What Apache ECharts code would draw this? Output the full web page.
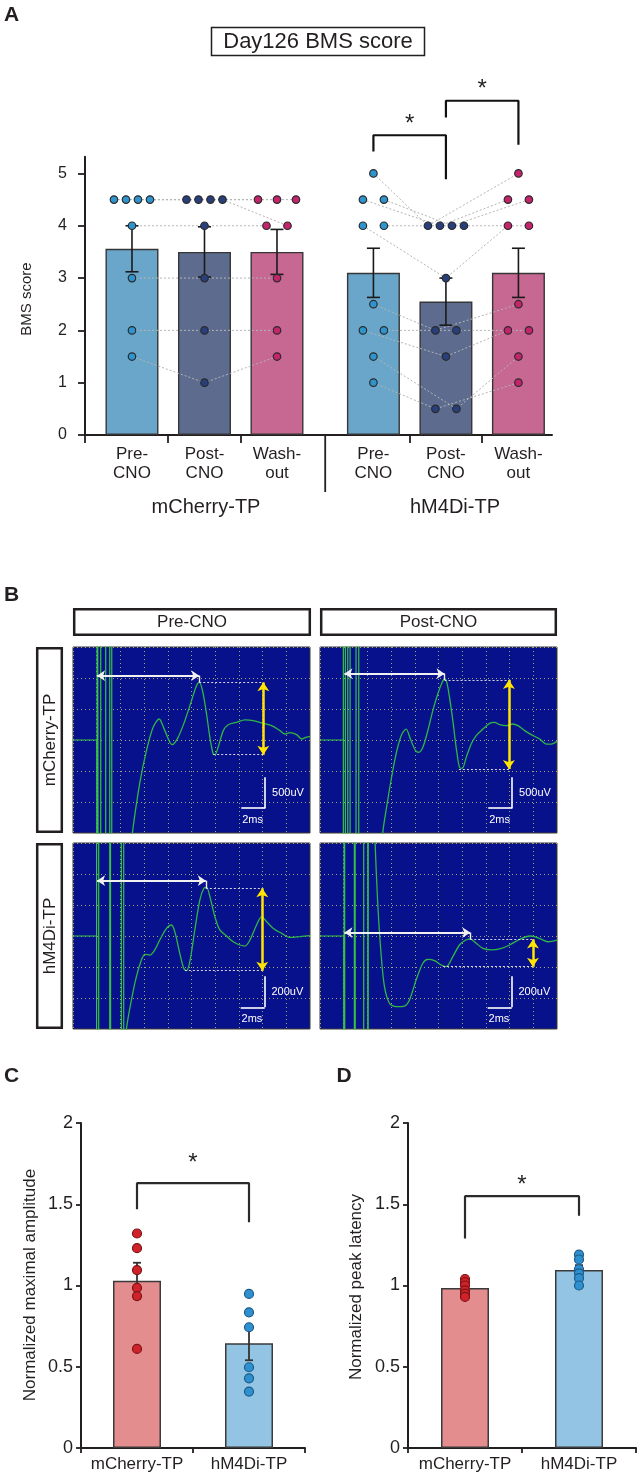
<!DOCTYPE html>
<html><head><meta charset="utf-8">
<script src="https://cdn.jsdelivr.net/npm/echarts@6/dist/echarts.min.js"></script>
<style>html,body{margin:0;padding:0;background:#fff}#c{width:641px;height:1474px}</style>
</head><body><div id="c"></div>
<script>
// ======================= DATA =======================
// ---- Panel A : Day126 BMS score ----
const conditions = ['Pre-\nCNO', 'Post-\nCNO', 'Wash-\nout'];
const groups = ['mCherry-TP', 'hM4Di-TP'];
const bmsTicks = [0, 1, 2, 3, 4, 5];
// individual animals: [Pre-CNO, Post-CNO, Wash-out]
const mCherryScores = [[4.5,4.5,4.5],[4.5,4.5,4.5],[4.5,4.5,4.5],[4,4,4],[4.5,4.5,4],[3,3,3],[2,2,2],[1.5,1,1.5]];
const hM4DiScores = [[5,4,5],[4.5,4,4.5],[4.5,4,4.5],[4,3,4],[4,4,4],[2.5,2,2.5],[2,1.5,2],[2,2,2],[1,0.5,1],[1.5,0.5,1.5]];
const mCherryMean = [3.56, 3.5, 3.5];
const mCherrySem = [0.44, 0.48, 0.43];
const hM4DiMean = [3.1, 2.55, 3.1];
const hM4DiSem = [0.47, 0.45, 0.47];
const bracketPrePost = [5.42, 5.73, 4.89];   // left leg, top, right leg
const bracketPostWash = [6.07, 6.39, 5.55];
const starLevelsA = [6.04, 6.71];

// ---- Panel B : evoked potentials (ms, uV) ----
const preMChArtifacts = [2.03, 2.17, 2.34, 2.76, 3.1, 3.27];
const preMChTrace = [[4.9,-1800],[5.01,-1505],[5.63,-700],[6.2,-172],[6.76,204],[7.27,339],[7.75,151],[8.37,-75],[8.87,43],[9.44,312],[10.0,634],[10.42,876],[10.65,930],[10.93,796],[11.27,419],[11.55,43],[11.83,-226],[11.97,-237],[12.25,-118],[12.68,151],[13.1,247],[13.8,285],[14.51,323],[15.21,312],[16.06,269],[16.76,231],[17.46,151],[17.89,97],[18.31,118],[18.87,86],[19.3,16],[19.66,43],[20,54]];
const preMChLatency = [2.03, 10.65, 1038];
const preMChAmplitude = [16.06, 930, -237, 11.83];

const postMChArtifacts = [1.97, 2.14, 2.34, 2.54, 3.04, 3.27];
const postMChTrace = [[5.2,-1800],[5.3,-1489],[5.58,-1129],[6.0,-645],[6.42,-226],[6.85,70],[7.27,177],[7.63,16],[8.06,-172],[8.34,-199],[8.68,-118],[9.1,151],[9.52,473],[9.94,742],[10.31,930],[10.51,984],[10.7,930],[10.93,688],[11.21,312],[11.49,-118],[11.77,-441],[12.0,-457],[12.34,-280],[12.76,-65],[13.18,70],[13.75,177],[14.31,269],[14.73,285],[15.15,247],[15.72,231],[16.28,258],[16.7,231],[17.27,151],[17.83,86],[18.54,16],[19.1,-65],[19.52,-65],[20,-22]];
const postMChLatency = [2.06, 10.51, 1070];
const postMChAmplitude = [15.94, 968, -468, 11.72];

const preHM4Artifacts = [1.99, 2.17, 3.1, 3.24, 4.08, 4.28];
const preHM4Trace = [[4.4,-800],[4.51,-602],[4.93,-413],[5.35,-262],[5.77,-155],[6.06,-118],[6.48,-123],[6.9,-90],[7.32,-26],[7.89,49],[8.31,71],[8.59,28],[9.01,-112],[9.35,-209],[9.58,-224],[9.86,-166],[10.28,39],[10.7,232],[11.04,308],[11.27,314],[11.55,254],[11.97,125],[12.39,39],[12.96,0],[13.52,-37],[14.08,-58],[14.51,-65],[14.93,-26],[15.49,71],[15.92,125],[16.34,92],[16.9,49],[17.61,17],[18.31,-9],[19.15,-4],[20,2]];
const preHM4Latency = [2.03, 11.21, 357];
const preHM4Amplitude = [15.97, 308, -224, 9.44];

const postHM4Artifacts = [2.03, 2.14, 2.9, 3.04, 3.69, 4.03, 4.11];
const postHM4Trace = [[4.55,800],[4.65,598],[4.87,211],[5.15,-112],[5.44,-327],[5.86,-434],[6.42,-456],[7.13,-452],[7.55,-413],[8.11,-284],[8.68,-176],[9.1,-151],[9.66,-159],[10.23,-187],[10.65,-198],[11.21,-133],[11.77,-58],[12.34,-24],[12.68,-20],[13.18,-47],[13.75,-80],[14.45,-90],[15.3,-80],[16.0,-58],[16.85,-22],[17.69,0],[18.11,-4],[18.82,-26],[19.24,-37],[20,-26]];
const postHM4Latency = [2.06, 12.68, 22];
const postHM4Amplitude = [17.97, -22, -198, 10.37];

const scopeTimeRange = [0, 20];          // ms, 2 ms / division
const scopeRangeMCh = 1500;              // uV, 500 uV / division
const scopeRangeHM4 = 600;               // uV, 200 uV / division
const scaleBarMCh = [16.2, -1100, 500];  // x (ms), bottom (uV), height (uV)
const scaleBarHM4 = [16.15, -460, 200];

// ---- Panels C & D ----
const cdCategories = ['mCherry-TP', 'hM4Di-TP'];
const cdTicks = [0, 0.5, 1, 1.5, 2];
const ampMean = [1.03, 0.645];
const ampSem = [0.11, 0.105];
const ampPoints = [[1.32,1.23,1.095,0.985,0.935,0.61],[0.948,0.835,0.743,0.497,0.429,0.347]];
const ampBracket = [1.47, 1.63, 1.39];
const ampStar = 1.78;
const latMean = [0.985, 1.095];
const latSem = [0.02, 0.03];
const latPoints = [[1.04,1.02,1.0,0.97,0.95,0.93],[1.19,1.16,1.10,1.075,1.045,1.0]];
const latBracket = [1.29, 1.55, 1.43];
const latStar = 1.65;

// ======================= LAYOUT / STYLE =======================
const FONT = '"Liberation Sans", Arial, Helvetica, sans-serif';
const INK = '#231f20';
const A_XMIN = 0.352, A_XMAX = 6.793;
const A_LEFT = 85, A_RIGHT = 552, A_TOP = 156.7, A_BOTTOM = 435;
const slotPos = [1, 2, 3, 4.33, 5.33, 6.33];
const unitPx = (A_RIGHT - A_LEFT) / (A_XMAX - A_XMIN);
const spreadPx = {1:[0], 2:[-10.5,10.5], 3:[-19,0,19], 4:[-18,-6,6,18], 5:[-24,-12,0,12,24]};
const barColorsA = ['#6aa6c9', '#5c6b8e', '#c66891'];
const dotColorsA = ['#2f93cd', '#283f7c', '#c4246b'];

const chart = echarts.init(document.getElementById('c'), null, {width: 641, height: 1474});

function jitterX(scores, g) {
  const xs = scores.map(() => [0, 0, 0]);
  for (let c = 0; c < 3; c++) {
    const byVal = {};
    scores.forEach((row, s) => { (byVal[row[c]] = byVal[row[c]] || []).push(s); });
    Object.values(byVal).forEach(list => {
      const offs = spreadPx[list.length];
      list.forEach((s, k) => { xs[s][c] = slotPos[g * 3 + c] + offs[k] / unitPx; });
    });
  }
  return xs;
}

function errorBarRenderer(cap, color, lw) {
  return function (params, api) {
    const x = api.value(0), m = api.value(1), e = api.value(2);
    const p1 = api.coord([x, m + e]), p2 = api.coord([x, m - e]);
    const st = {stroke: color, lineWidth: lw};
    return {type: 'group', children: [
      {type: 'line', shape: {x1: p1[0], y1: p1[1], x2: p2[0], y2: p2[1]}, style: st},
      {type: 'line', shape: {x1: p1[0] - cap / 2, y1: p1[1], x2: p1[0] + cap / 2, y2: p1[1]}, style: st},
      {type: 'line', shape: {x1: p2[0] - cap / 2, y1: p2[1], x2: p2[0] + cap / 2, y2: p2[1]}, style: st}
    ]};
  };
}

// ---------------- grids & axes ----------------
const grids = [
  {left: A_LEFT, top: A_TOP, width: A_RIGHT - A_LEFT, height: A_BOTTOM - A_TOP},
  {left: 73, top: 647, width: 237, height: 186},
  {left: 320, top: 647, width: 237, height: 186},
  {left: 73, top: 843, width: 237, height: 186},
  {left: 320, top: 843, width: 237, height: 186},
  {left: 81, top: 1123, width: 224, height: 325},
  {left: 408, top: 1123, width: 228, height: 325}
].map((g, i) => Object.assign({containLabel: false, outerBoundsMode: 'none'}, g,
  (i >= 1 && i <= 4) ? {show: true, backgroundColor: '#08118c', borderColor: '#3a3a3a', borderWidth: 1} : {}));

const midTicks = [];
for (let i = 0; i < slotPos.length - 1; i++) { if (i !== 2) midTicks.push((slotPos[i] + slotPos[i + 1]) / 2); }
const separatorX = (slotPos[2] + slotPos[3]) / 2;

const xAxes = [], yAxes = [];
xAxes.push({gridIndex: 0, type: 'value', min: A_XMIN, max: A_XMAX, splitLine: {show: false},
  axisLine: {show: true, onZero: false, lineStyle: {color: INK, width: 2}},
  axisTick: {show: true, length: 8, lineStyle: {color: INK, width: 1.8}, customValues: [A_XMIN].concat(midTicks)},
  axisLabel: {show: true, customValues: slotPos, fontSize: 17, lineHeight: 19, color: INK, margin: 10, fontFamily: FONT,
    formatter: v => { const i = slotPos.findIndex(p => Math.abs(p - v) < 1e-6); return i < 0 ? '' : conditions[i % 3]; }}});
yAxes.push({gridIndex: 0, type: 'value', min: 0, max: 5.32, splitLine: {show: false},
  axisLine: {show: true, lineStyle: {color: INK, width: 2}},
  axisTick: {show: true, length: 7, lineStyle: {color: INK, width: 1.8}, customValues: bmsTicks},
  axisLabel: {customValues: bmsTicks, fontSize: 16, color: INK, margin: 18, fontFamily: FONT,
    formatter: v => Number.isInteger(v) ? String(v) : ''}});
for (let i = 1; i <= 4; i++) {
  const R = i <= 2 ? scopeRangeMCh : scopeRangeHM4;
  const split = {show: true, lineStyle: {color: '#a3a374', width: 1, type: [1, 3]}};
  xAxes.push({gridIndex: i, type: 'value', min: scopeTimeRange[0], max: scopeTimeRange[1], interval: 2,
    axisLine: {show: false}, axisTick: {show: false}, axisLabel: {show: false}, splitLine: split});
  yAxes.push({gridIndex: i, type: 'value', min: -R, max: R, interval: R / 3,
    axisLine: {show: false}, axisTick: {show: false}, axisLabel: {show: false}, splitLine: split});
}
[5, 6].forEach(gi => {
  xAxes.push({gridIndex: gi, type: 'category', data: cdCategories, boundaryGap: true,
    axisLine: {show: true, onZero: false, lineStyle: {color: INK, width: 2}},
    axisTick: {show: true, length: 5, alignWithLabel: false, interval: 0, lineStyle: {color: INK, width: 1.8}},
    axisLabel: {interval: 0, hideOverlap: false, fontSize: 17, lineHeight: 18, color: INK, margin: 7, fontFamily: FONT},
    splitLine: {show: false}});
  yAxes.push({gridIndex: gi, type: 'value', min: 0, max: 2, interval: 0.5,
    axisLine: {show: true, lineStyle: {color: INK, width: 2}},
    axisTick: {show: true, length: 5, lineStyle: {color: INK, width: 1.8}},
    axisLabel: {fontSize: 18, color: INK, margin: 8, fontFamily: FONT}, splitLine: {show: false}});
});

// ---------------- series ----------------
const series = [];
// Panel A bars
const aMeans = [mCherryMean, hM4DiMean], aSems = [mCherrySem, hM4DiSem], aScores = [mCherryScores, hM4DiScores];
const barDataA = [], errDataA = [];
for (let g = 0; g < 2; g++) for (let c = 0; c < 3; c++) {
  const i = g * 3 + c;
  barDataA.push({value: [slotPos[i], aMeans[g][c]], itemStyle: {color: barColorsA[c]}});
  errDataA.push([slotPos[i], aMeans[g][c], aSems[g][c]]);
}
series.push({type: 'bar', xAxisIndex: 0, yAxisIndex: 0, barWidth: 53, data: barDataA, z: 1, silent: true,
  itemStyle: {borderColor: '#363636', borderWidth: 1.4}});
// subject lines + dots
const dotDataA = [[], [], []];
aScores.forEach((scores, g) => {
  const xs = jitterX(scores, g);
  scores.forEach((row, s) => {
    series.push({type: 'line', xAxisIndex: 0, yAxisIndex: 0, data: row.map((v, c) => [xs[s][c], v]), symbol: 'none',
      lineStyle: {color: '#b5b5b5', width: 1, type: [2, 2]}, z: 2, silent: true});
    row.forEach((v, c) => dotDataA[c].push([xs[s][c], v]));
  });
});
series.push({type: 'custom', xAxisIndex: 0, yAxisIndex: 0, data: errDataA, encode: {x: 0, y: 1}, z: 3, silent: true,
  renderItem: errorBarRenderer(13, '#1a1a1a', 1.6)});
dotDataA.forEach((d, c) => series.push({type: 'scatter', xAxisIndex: 0, yAxisIndex: 0, data: d, symbolSize: 7.5, z: 4, silent: true,
  itemStyle: {color: dotColorsA[c], borderColor: '#2a2a2a', borderWidth: 1.2, opacity: 1}}));
// significance brackets (A)
[[slotPos[3], slotPos[4], bracketPrePost], [slotPos[4], slotPos[5], bracketPostWash]].forEach(([xa, xb, b]) => {
  series.push({type: 'line', xAxisIndex: 0, yAxisIndex: 0, clip: false, symbol: 'none', silent: true, z: 5,
    data: [[xa, b[0]], [xa, b[1]], [xb, b[1]], [xb, b[2]]], lineStyle: {color: '#111', width: 2.2}});
});
// group separator
series.push({type: 'line', xAxisIndex: 0, yAxisIndex: 0, clip: false, symbol: 'none', silent: true,
  data: [[separatorX, 0], [separatorX, -1.09]], lineStyle: {color: INK, width: 1.8}});

// Panel B
function stimData(arts) {
  const d = [[0, 0], [Math.min(2, arts[0]), 0]];
  arts.forEach((t, k) => { const s = k % 2 === 0 ? -1 : 1; d.push([t, s * 9999], [t, -s * 9999]); });
  return d;
}
function scopeMarks(lat, amp, bar) {
  const white = '#f0f0f0', yellow = '#ffe500';
  const solid = (c, w) => ({color: c, width: w, type: 'solid'});
  const dotted = {color: '#d6d6e6', width: 1.2, type: [2, 2]};
  return {silent: true, animation: false, symbol: ['none', 'none'], symbolSize: 8, precision: 4,
    label: {show: false}, emphasis: {disabled: true},
    data: [
      [{coord: [lat[0], lat[2]], symbol: 'arrow', lineStyle: solid(white, 2)}, {coord: [lat[1], lat[2]], symbol: 'arrow'}],
      [{coord: [lat[1], lat[2]], lineStyle: solid(white, 1.4)}, {coord: [lat[1], amp[1]]}],
      [{coord: [lat[1], amp[1]], lineStyle: dotted}, {coord: [amp[0], amp[1]]}],
      [{coord: [amp[3], amp[2]], lineStyle: dotted}, {coord: [amp[0], amp[2]]}],
      [{coord: [amp[0], amp[1]], symbol: 'arrow', symbolSize: 9, lineStyle: solid(yellow, 2.5)}, {coord: [amp[0], amp[2]], symbol: 'arrow', symbolSize: 9}],
      [{coord: [bar[0], bar[1] + bar[2]], lineStyle: solid('#ffffff', 1.6)}, {coord: [bar[0], bar[1]]}],
      [{coord: [bar[0] - 2, bar[1]], lineStyle: solid('#ffffff', 1.6)}, {coord: [bar[0] + 0.03, bar[1]]}]
    ]};
}
const scopes = [
  [preMChArtifacts, preMChTrace, preMChLatency, preMChAmplitude, scaleBarMCh],
  [postMChArtifacts, postMChTrace, postMChLatency, postMChAmplitude, scaleBarMCh],
  [preHM4Artifacts, preHM4Trace, preHM4Latency, preHM4Amplitude, scaleBarHM4],
  [postHM4Artifacts, postHM4Trace, postHM4Latency, postHM4Amplitude, scaleBarHM4]
];
scopes.forEach(([arts, trace, lat, amp, bar], k) => {
  const i = k + 1;
  series.push({type: 'line', xAxisIndex: i, yAxisIndex: i, data: stimData(arts), symbol: 'none', silent: true, z: 3,
    lineStyle: {color: '#37c243', width: 1.2}});
  series.push({type: 'line', xAxisIndex: i, yAxisIndex: i, data: trace, symbol: 'none', silent: true, z: 3, smooth: 0.3,
    lineStyle: {color: '#2fb645', width: 1.3}, markLine: scopeMarks(lat, amp, bar)});
});

// Panels C & D
const cdColors = ['#e38d8f', '#94c4e3'];
const cdDot = [{color: '#d0222b', borderColor: '#7d1515'}, {color: '#2f90d0', borderColor: '#1b5b88'}];
[[5, ampMean, ampSem, ampPoints, ampBracket], [6, latMean, latSem, latPoints, latBracket]].forEach(([gi, mean, sem, pts, br]) => {
  series.push({type: 'bar', xAxisIndex: gi, yAxisIndex: gi, barWidth: 48, silent: true, z: 1,
    data: mean.map((m, j) => ({value: m, itemStyle: {color: cdColors[j]}})),
    itemStyle: {borderColor: '#3a3a3a', borderWidth: 1.5}});
  series.push({type: 'custom', xAxisIndex: gi, yAxisIndex: gi, encode: {x: 0, y: 1}, silent: true, z: 3,
    data: mean.map((m, j) => [j, m, sem[j]]), renderItem: errorBarRenderer(8, '#333', 1.8)});
  pts.forEach((p, j) => series.push({type: 'scatter', xAxisIndex: gi, yAxisIndex: gi, silent: true, z: 4, symbolSize: 9,
    data: p.map(v => [j, v]), itemStyle: Object.assign({borderWidth: 1.2, opacity: 1}, cdDot[j])}));
  series.push({type: 'line', xAxisIndex: gi, yAxisIndex: gi, clip: false, symbol: 'none', silent: true, z: 5,
    data: [[0, br[0]], [0, br[1]], [1, br[1]], [1, br[2]]], lineStyle: {color: '#2a2a2a', width: 2.2}});
});

chart.setOption({
  animation: false, backgroundColor: '#ffffff', textStyle: {fontFamily: FONT},
  grid: grids, xAxis: xAxes, yAxis: yAxes, series: series
});

// ---------------- text & frames ----------------
function txt(text, x, y, size, opts) {
  opts = opts || {};
  return {type: 'text', x: x, y: y, rotation: opts.rot || 0, silent: true, z: 50,
    style: {text: text, fill: opts.fill || INK, fontSize: size, fontFamily: FONT, fontWeight: opts.bold ? 'bold' : 'normal',
      align: opts.align || 'center', textAlign: opts.align || 'center', verticalAlign: 'middle', textVerticalAlign: 'middle'}};
}
function box(x, y, w, h, lw) {
  return {type: 'rect', shape: {x: x, y: y, width: w, height: h}, silent: true, z: 40,
    style: {fill: '#ffffff', stroke: INK, lineWidth: lw}};
}
const G = [];
G.push(txt('A', 11.5, 15, 21, {bold: true}), txt('B', 11.5, 595, 21, {bold: true}),
       txt('C', 11.5, 1076, 21, {bold: true}), txt('D', 344, 1076, 21, {bold: true}));
G.push(box(211.5, 27.5, 213, 28, 1.5), txt('Day126 BMS score', 318, 42, 22));
G.push(txt('BMS score', 27, 299, 15, {rot: Math.PI / 2}));
G.push(txt(groups[0], 206, 507, 20), txt(groups[1], 455, 507, 20));
G.push(box(74.2, 609.2, 235.6, 25.6, 2.5), txt('Pre-CNO', 192, 622, 17));
G.push(box(321.2, 609.2, 234.6, 25.6, 2.5), txt('Post-CNO', 438.5, 622, 17));
G.push(box(37.2, 648.2, 24.6, 183.6, 2.5), txt('mCherry-TP', 50, 740, 17, {rot: Math.PI / 2}));
G.push(box(37.2, 844.2, 24.6, 183.6, 2.5), txt('hM4Di-TP', 50, 936, 17, {rot: Math.PI / 2}));
G.push(txt('Normalized maximal amplitude', 30, 1285, 17, {rot: Math.PI / 2}));
G.push(txt('Normalized peak latency', 356, 1287, 17, {rot: Math.PI / 2}));
// stars placed through the axes' scales
function star(gi, x, y) {
  const p = chart.convertToPixel({gridIndex: gi}, [x, y]);
  return txt('*', p[0], p[1] + 5, 24, {bold: false});
}
G.push(star(0, (slotPos[3] + slotPos[4]) / 2, starLevelsA[0]));
G.push(star(0, (slotPos[4] + slotPos[5]) / 2, starLevelsA[1]));
{
  const pa = chart.convertToPixel({gridIndex: 5}, [0, ampStar]), pb = chart.convertToPixel({gridIndex: 5}, [1, ampStar]);
  G.push(txt('*', (pa[0] + pb[0]) / 2, pa[1] + 5, 24));
  const qa = chart.convertToPixel({gridIndex: 6}, [0, latStar]), qb = chart.convertToPixel({gridIndex: 6}, [1, latStar]);
  G.push(txt('*', (qa[0] + qb[0]) / 2, qa[1] + 5, 24));
}
// scope scale-bar labels
scopes.forEach((s, k) => {
  const bar = s[4], gi = k + 1;
  const pv = chart.convertToPixel({gridIndex: gi}, [bar[0] + 0.6, bar[1] + bar[2] / 2]);
  const pt = chart.convertToPixel({gridIndex: gi}, [bar[0] - 1.05, bar[1] - 0.38 * bar[2]]);
  G.push(txt(bar[2] + 'uV', pv[0], pv[1], 11, {fill: '#ffffff', align: 'left'}));
  G.push(txt('2ms', pt[0], pt[1], 11, {fill: '#ffffff'}));
});
chart.setOption({graphic: {elements: G}});
</script></body></html>
